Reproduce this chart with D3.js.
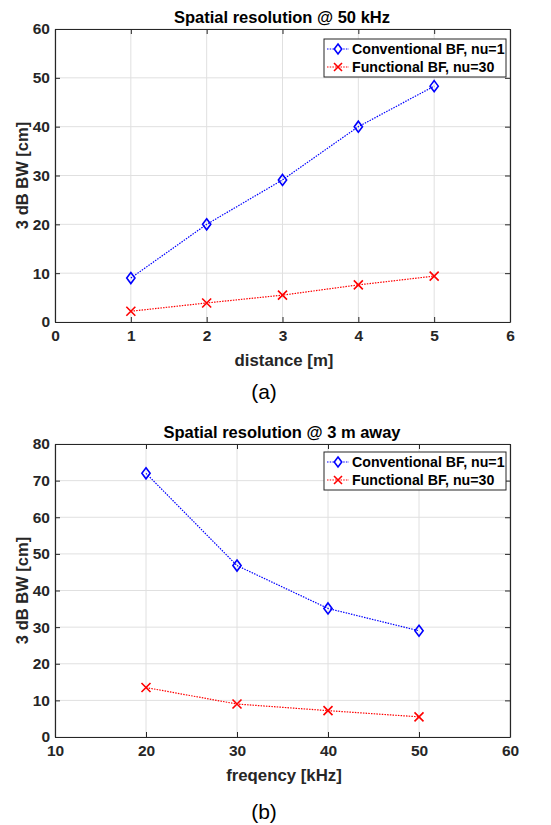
<!DOCTYPE html>
<html><head><meta charset="utf-8">
<script src="https://cdn.jsdelivr.net/npm/d3@7"></script>
<style>
body{margin:0;background:#fff;}
svg{display:block;}
text{font-family:Arial,"Liberation Sans",sans-serif;}
</style></head><body>
<svg id="c" width="551" height="825"></svg>
<script>
// Chart (a)
const distances = [1, 2, 3, 4, 5];
const convA = [9.0, 20.0, 29.1, 40.0, 48.3];
const funcA = [2.2, 3.9, 5.5, 7.6, 9.4];
const xTicksA = [0, 1, 2, 3, 4, 5, 6];
const yTicksA = [0, 10, 20, 30, 40, 50, 60];
// Chart (b)
const freqs = [20, 30, 40, 50];
const convB = [72.0, 46.8, 35.1, 29.0];
const funcB = [13.5, 9.0, 7.2, 5.5];
const xTicksB = [10, 20, 30, 40, 50, 60];
const yTicksB = [0, 10, 20, 30, 40, 50, 60, 70, 80];
const seriesNames = ["Conventional BF, nu=1", "Functional BF, nu=30"];

const svg = d3.select("#c");
const axCol = "#262626";

function drawPanel(cfg) {
  const g = svg.append("g");
  const x = d3.scaleLinear().domain(cfg.xDom).range([55, 510]);
  const y = d3.scaleLinear().domain(cfg.yDom).range([cfg.bottom, cfg.top]);
  // grid
  g.append("g").selectAll("line.gx").data(cfg.xTicks).join("line")
    .attr("x1", d => x(d)).attr("x2", d => x(d)).attr("y1", cfg.top).attr("y2", cfg.bottom)
    .attr("stroke", "#e0e0e0").attr("stroke-width", 1);
  g.append("g").selectAll("line.gy").data(cfg.yTicks).join("line")
    .attr("y1", d => y(d)).attr("y2", d => y(d)).attr("x1", 55).attr("x2", 510)
    .attr("stroke", "#e0e0e0").attr("stroke-width", 1);
  const fmt = d3.format("d");
  // axes (ticks inward)
  const xb = d3.axisBottom(x).tickValues(cfg.xTicks).tickFormat(fmt).tickSizeInner(-5).tickSizeOuter(0).tickPadding(8);
  const xt = d3.axisTop(x).tickValues(cfg.xTicks).tickSizeInner(-5).tickSizeOuter(0).tickFormat("");
  const yl = d3.axisLeft(y).tickValues(cfg.yTicks).tickFormat(fmt).tickSizeInner(-5).tickSizeOuter(0).tickPadding(5);
  const yr = d3.axisRight(y).tickValues(cfg.yTicks).tickSizeInner(-5).tickSizeOuter(0).tickFormat("");
  const styleAxis = sel => {
    sel.selectAll("path").attr("stroke", axCol).attr("stroke-width", 1.2);
    sel.selectAll("line").attr("stroke", axCol).attr("stroke-width", 1);
    sel.selectAll("text").attr("fill", axCol).attr("font-size", 15.5).attr("font-weight", "bold");
  };
  g.append("g").attr("transform", `translate(0,${cfg.bottom})`).call(xb).call(styleAxis);
  g.append("g").attr("transform", `translate(0,${cfg.top})`).call(xt).call(styleAxis);
  g.append("g").attr("transform", `translate(55,0)`).call(yl).call(styleAxis);
  g.append("g").attr("transform", `translate(510,0)`).call(yr).call(styleAxis);

  // lines
  const line = d3.line().x(d => x(d[0])).y(d => y(d[1]));
  const conv = cfg.xs.map((v, i) => [v, cfg.conv[i]]);
  const func = cfg.xs.map((v, i) => [v, cfg.func[i]]);
  g.append("path").datum(conv).attr("d", line).attr("fill", "none")
    .attr("stroke", "#0000ff").attr("stroke-width", 1.2).attr("stroke-dasharray", "1.5,1.2");
  g.append("path").datum(func).attr("d", line).attr("fill", "none")
    .attr("stroke", "#ff0000").attr("stroke-width", 1.2).attr("stroke-dasharray", "1.5,1.2");
  const diamond = (cx, cy, r) => `M${cx},${cy - r}L${cx + r * 0.75},${cy}L${cx},${cy + r}L${cx - r * 0.75},${cy}Z`;
  const cross = (cx, cy, r) => `M${cx - r},${cy - r}L${cx + r},${cy + r}M${cx - r},${cy + r}L${cx + r},${cy - r}`;
  g.append("g").selectAll("path").data(conv).join("path")
    .attr("d", d => diamond(x(d[0]), y(d[1]), 5.5)).attr("fill", "none")
    .attr("stroke", "#0000ff").attr("stroke-width", 1.6);
  g.append("g").selectAll("path").data(func).join("path")
    .attr("d", d => cross(x(d[0]), y(d[1]), 4.5)).attr("fill", "none")
    .attr("stroke", "#ff0000").attr("stroke-width", 1.6);

  // legend
  const lg = g.append("g").attr("transform", `translate(${cfg.legX},${cfg.legY})`);
  lg.append("rect").attr("x", 0).attr("y", 0).attr("width", 182).attr("height", 38)
    .attr("fill", "#fff").attr("stroke", axCol).attr("stroke-width", 1);
  const colors = ["#0000ff", "#ff0000"];
  seriesNames.forEach((nm, i) => {
    const cy = 10 + i * 18;
    lg.append("line").attr("x1", 3).attr("x2", 25).attr("y1", cy).attr("y2", cy)
      .attr("stroke", colors[i]).attr("stroke-width", 1.2).attr("stroke-dasharray", "1.5,1.2");
    lg.append("path").attr("d", i === 0 ? diamond(14, cy, 5) : cross(14, cy, 4))
      .attr("fill", i === 0 ? "#fff" : "none").attr("stroke", colors[i]).attr("stroke-width", 1.6);
    lg.append("text").attr("x", 28).attr("y", cy + 5).attr("font-size", 14.2).attr("font-weight", "bold")
      .attr("fill", "#000").text(nm);
  });

  // titles
  g.append("text").attr("x", 282).attr("y", cfg.top - 6).attr("text-anchor", "middle")
    .attr("font-size", 16.5).attr("font-weight", "bold").attr("fill", "#000").text(cfg.title);
  g.append("text").attr("x", 284).attr("y", cfg.bottom + 44).attr("text-anchor", "middle")
    .attr("font-size", 16.8).attr("font-weight", "bold").attr("fill", axCol).text(cfg.xLabel);
  g.append("text").attr("transform", `translate(27.5,${(cfg.top + cfg.bottom) / 2}) rotate(-90)`)
    .attr("text-anchor", "middle").attr("font-size", 16.5).attr("font-weight", "bold").attr("fill", axCol)
    .text("3 dB BW [cm]");
  g.append("text").attr("x", 264).attr("y", cfg.subY).attr("text-anchor", "middle")
    .attr("font-size", 21).attr("fill", "#000").text(cfg.sub);
}

drawPanel({xDom: [0, 6], yDom: [0, 60], top: 29, bottom: 322, xTicks: xTicksA, yTicks: yTicksA,
  xs: distances, conv: convA, func: funcA, legX: 324, legY: 39, subY: 399,
  title: "Spatial resolution @ 50 kHz", xLabel: "distance [m]", sub: "(a)"});
drawPanel({xDom: [10, 60], yDom: [0, 80], top: 444, bottom: 737, xTicks: xTicksB, yTicks: yTicksB,
  xs: freqs, conv: convB, func: funcB, legX: 324, legY: 452, subY: 819,
  title: "Spatial resolution @ 3 m away", xLabel: "freqency [kHz]", sub: "(b)"});
</script></body></html>
